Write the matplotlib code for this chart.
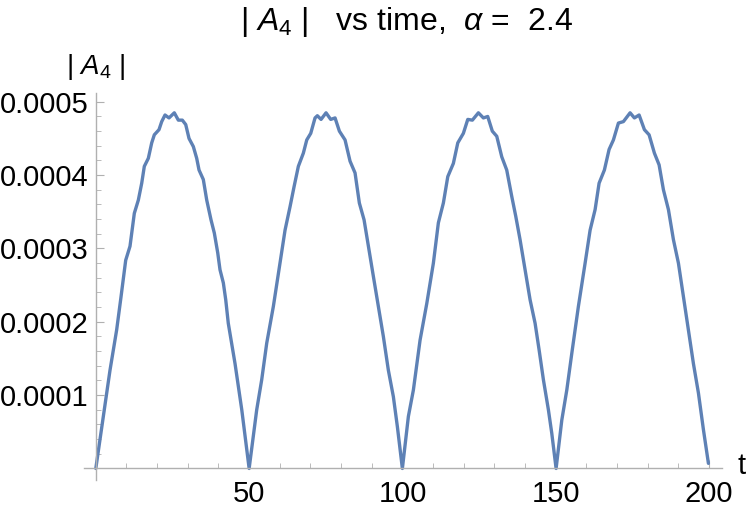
import matplotlib
matplotlib.use("Agg")
import matplotlib.pyplot as plt
from matplotlib.ticker import MultipleLocator, FixedLocator, FixedFormatter

plt.rcParams['font.family'] = ['Liberation Sans', 'DejaVu Sans']
plt.rcParams['mathtext.fontset'] = 'custom'
plt.rcParams['mathtext.rm'] = 'Liberation Sans'
plt.rcParams['mathtext.it'] = 'Liberation Sans:italic'

# time values
t = [0, 2.13, 4.63, 6.8, 8.22, 9.75, 11.15, 12.56, 13.87, 14.97, 15.82, 17.13, 18.23, 19.08,
     20.61, 21.49, 22.57, 23.87, 25.6, 26.91, 28.21, 29.32, 30.4, 31.8, 32.9, 33.66, 35.06,
     36.17, 37.57, 38.65, 39.76, 40.5, 41.59, 42.37, 43.2, 45.4, 47.6, 50.0,
     52.47, 54.1, 55.74, 57.9, 60.08, 61.71, 63.34, 64.64, 66.05, 67.68, 68.79, 70.09, 71.49,
     72.25, 73.45, 75.08, 76.6, 78.02, 79.43, 81.28, 82.91, 84.54, 85.94, 87.48, 88.89, 90.51,
     92.14, 93.77, 95.4, 97.03, 98.34, 99.97,
     101.93, 103.56, 105.74, 107.93, 110.08, 111.71, 113.34, 114.78, 116.6, 118.04, 119.86,
     121.3, 122.8, 124.76, 126.39, 127.8, 129.3, 130.75, 132.38, 134.0, 135.64, 136.94, 138.35,
     139.98, 141.62, 143.25, 144.55, 145.96, 147.59, 148.69, 150.1,
     151.96, 153.59, 155.22, 157.37, 159.56, 161.19, 162.82, 164.12, 165.85, 167.38, 168.79,
     170.42, 172.05, 174.23, 175.63, 177.17, 178.9, 180.43, 182.16, 183.69, 185.1, 186.73,
     188.36, 189.99, 191.62, 193.25, 194.88, 196.51, 198.14, 199.77]

# |A4| values in units of 1e-4
a4 = [0, 0.62, 1.34, 1.89, 2.34, 2.84, 3.03, 3.48, 3.66, 3.89, 4.12, 4.23, 4.44, 4.55,
      4.62, 4.73, 4.82, 4.78, 4.85, 4.75, 4.75, 4.69, 4.50, 4.39, 4.23, 4.07, 3.94,
      3.66, 3.39, 3.21, 2.94, 2.71, 2.53, 2.30, 1.98, 1.43, 0.80, 0.0,
      0.80, 1.21, 1.71, 2.21, 2.80, 3.25, 3.57, 3.84, 4.12, 4.30, 4.48, 4.57, 4.78,
      4.81, 4.76, 4.85, 4.76, 4.78, 4.60, 4.48, 4.19, 4.03, 3.62, 3.39, 3.03, 2.62,
      2.21, 1.80, 1.34, 0.98, 0.57, 0.0,
      0.71, 1.07, 1.75, 2.25, 2.80, 3.35, 3.62, 3.98, 4.16, 4.44, 4.57,
      4.76, 4.75, 4.85, 4.78, 4.80, 4.60, 4.53, 4.25, 4.07, 3.71, 3.44, 3.12,
      2.71, 2.30, 1.98, 1.62, 1.21, 0.80, 0.48, 0.0,
      0.66, 1.07, 1.57, 2.21, 2.80, 3.25, 3.53, 3.89, 4.07, 4.35, 4.48,
      4.71, 4.73, 4.85, 4.78, 4.82, 4.62, 4.55, 4.30, 4.14, 3.80, 3.53,
      3.12, 2.80, 2.34, 1.89, 1.43, 1.03, 0.53, 0.07]

x_ticks = [50, 100, 150, 200]
x_labels = ['50', '100', '150', '200']
y_ticks = [0.0001, 0.0002, 0.0003, 0.0004, 0.0005]
y_labels = ['0.0001', '0.0002', '0.0003', '0.0004', '0.0005']

title = r'| $A_4$ |   vs time,  $\alpha$ =  2.4'
ylabel = r'| $A_4$ |'
xlabel = 't'

W, H = 750, 515
fig = plt.figure(figsize=(W / 100, H / 100), dpi=100)
ax = fig.add_axes([84 / W, 1 - 480 / H, (722 - 84) / W, (480 - 93) / H])

ax.plot(t, [v * 1e-4 for v in a4], color='#5E81B5', lw=2.4,
        solid_joinstyle='round', solid_capstyle='round')

ax.set_xlim(-3.85, 204.2)
ax.set_ylim(-0.0000157, 0.000512)

for s in ['top', 'right']:
    ax.spines[s].set_visible(False)
ax.spines['left'].set_position(('data', 0))
ax.spines['bottom'].set_position(('data', 0))
axcol = '#b0b0b0'
for s in ['left', 'bottom']:
    ax.spines[s].set_color(axcol)
    ax.spines[s].set_linewidth(1.0)

ax.xaxis.set_major_locator(FixedLocator(x_ticks))
ax.xaxis.set_major_formatter(FixedFormatter(x_labels))
ax.xaxis.set_minor_locator(MultipleLocator(10))
ax.yaxis.set_major_locator(FixedLocator(y_ticks))
ax.yaxis.set_major_formatter(FixedFormatter(y_labels))
ax.yaxis.set_minor_locator(MultipleLocator(0.00002))

ax.tick_params(axis='x', which='major', direction='in', length=6, width=0.8, color=axcol,
               labelsize=21, pad=8)
ax.tick_params(axis='x', which='minor', direction='in', length=3.5, width=0.6, color=axcol)
ax.tick_params(axis='y', which='major', direction='in', length=6, width=0.8, color=axcol,
               labelsize=21, pad=5)
ax.tick_params(axis='y', which='minor', direction='in', length=3.5, width=0.6, color=axcol)

fig.text(406 / W, 1 - 22 / H, title, ha='center', va='center', fontsize=23)
fig.text(96 / W, 1 - 67 / H, ylabel, ha='center', va='center', fontsize=20)
fig.text(742 / W, 1 - 466 / H, xlabel, ha='center', va='center', fontsize=21)

fig.savefig('out.png', dpi=100)
